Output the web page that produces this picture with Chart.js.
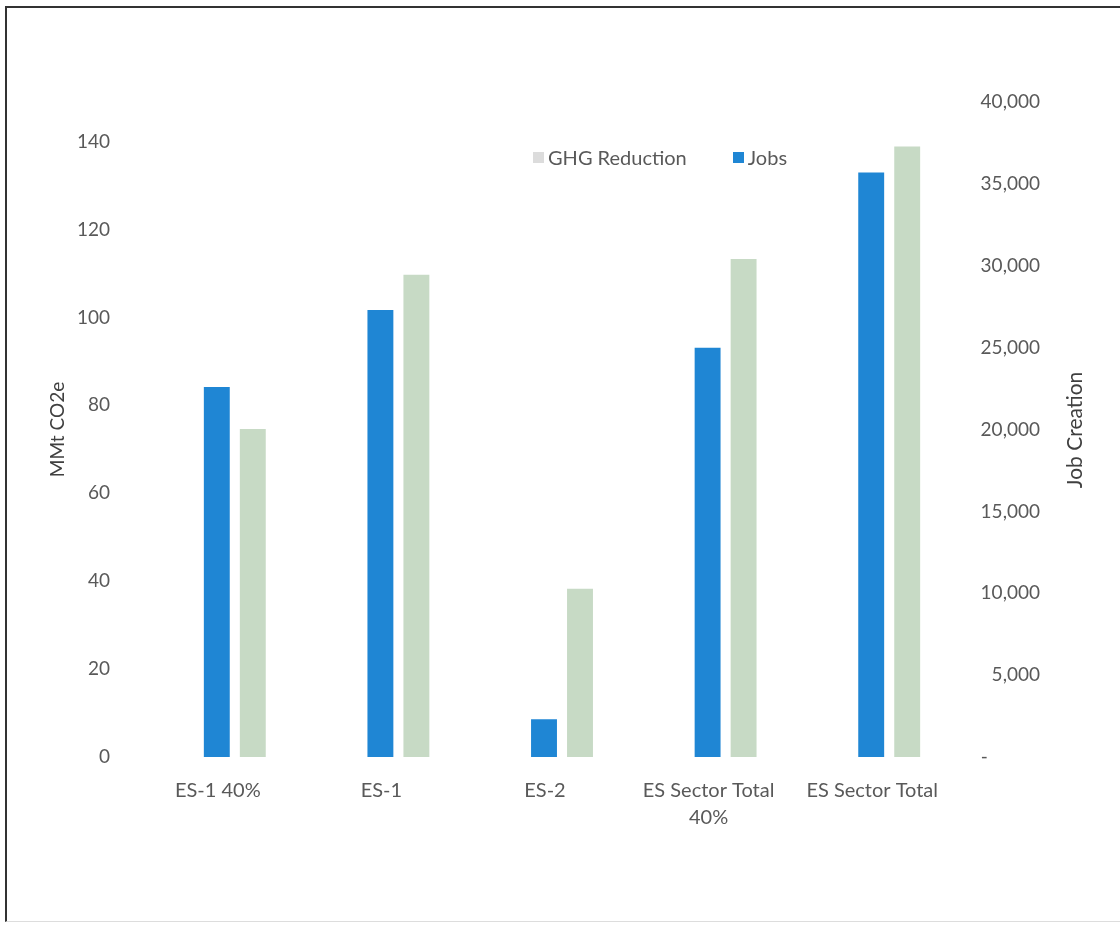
<!DOCTYPE html>
<html>
<head>
<meta charset="utf-8">
<script src="https://cdn.jsdelivr.net/npm/chart.js@4/dist/chart.umd.min.js"></script>
<style>
  body { margin:0; background:#fff; font-family: Lato, "Open Sans", sans-serif; }
  #wrap { position:relative; width:1120px; height:926px; }
  #frame { position:absolute; left:5px; top:6px; width:1115px; height:913px;
           border-top:2px solid #333; border-left:2px solid #333; border-bottom:1px solid #ddd; pointer-events:none; }
  #legend { position:absolute; top:145px; left:533px; font-size:20px; color:#595959; white-space:nowrap; }
  #legend span.item { margin-right:46px; }
  #legend i { display:inline-block; width:11px; height:11px; margin-right:4px; vertical-align:2px; }
  #rtitle { position:absolute; left:1073px; top:430px; transform:translate(-50%,-50%) rotate(-90deg);
            font-size:21px; color:#404040; white-space:nowrap; }
</style>
</head>
<body>
<div id="wrap">
  <canvas id="chart" width="1120" height="926"></canvas>
  <div id="frame"></div>
  <div id="legend"></div>
  <div id="rtitle">Job Creation</div>
</div>
<script>
// data
const categories = ['ES-1 40%', 'ES-1', 'ES-2', ['ES Sector Total', '40%'], 'ES Sector Total'];
const jobs = [22600, 27300, 2300, 25000, 35700];      // right axis
const ghgReduction = [74.6, 109.7, 38.3, 113.3, 138.9]; // left axis, MMt CO2e
const leftTicks = [0, 20, 40, 60, 80, 100, 120, 140];

const blue = '#1f86d4';
const sage = '#c7dac5';
const textCol = '#595959';

const chart = new Chart(document.getElementById('chart'), {
  type: 'bar',
  data: {
    labels: categories,
    datasets: [
      { label: 'Jobs', data: jobs, backgroundColor: blue, yAxisID: 'y1' },
      { label: 'GHG Reduction', data: ghgReduction, backgroundColor: sage, yAxisID: 'y' }
    ]
  },
  options: {
    responsive: false,
    animation: false,
    layout: { padding: { top: 102, right: 80, bottom: 0, left: 0 } },
    datasets: { bar: { categoryPercentage: 0.44, barPercentage: 0.72 } },
    plugins: { legend: { display: false }, tooltip: { enabled: false } },
    scales: {
      x: {
        grid: { display: false },
        border: { display: false },
        ticks: { color: textCol, padding: 12, labelOffset: -17, maxRotation: 0,
                 font: { family: 'Lato', size: 20, lineHeight: 1.35 } },
        afterFit(s) { s.height = 169; }
      },
      y: {
        position: 'left',
        min: 0, max: 149,
        grid: { display: false },
        border: { display: false },
        ticks: {
          stepSize: 20, color: textCol, padding: 35,
          font: { family: 'Lato', size: 19 },
          callback: v => leftTicks.includes(v) ? v : ''
        },
        title: { display: true, text: 'MMt CO2e', color: '#404040', font: { family: 'Lato', size: 19 }, padding: { top: 46, bottom: 0 } },
        afterFit(s) { s.width = 153; }
      },
      y1: {
        position: 'right',
        min: 0, max: 40000,
        grid: { display: false },
        border: { display: false },
        ticks: {
          stepSize: 5000, color: textCol, crossAlign: 'far',
          font: { family: 'Lato', size: 19 },
          callback: v => v === 0 ? '-\u2003\u2003\u2003\u2002' : v.toLocaleString('en-US')
        },
        afterFit(s) { s.width = 69; }
      }
    }
  }
});

// legend shown GHG first, as in the reference
const legend = document.getElementById('legend');
chart.data.datasets.slice().reverse().forEach(ds => {
  const item = document.createElement('span');
  item.className = 'item';
  const sw = document.createElement('i');
  sw.style.background = ds.backgroundColor === sage ? '#dcdcdc' : ds.backgroundColor;
  item.appendChild(sw);
  item.appendChild(document.createTextNode(ds.label));
  legend.appendChild(item);
});
</script>
</body>
</html>
